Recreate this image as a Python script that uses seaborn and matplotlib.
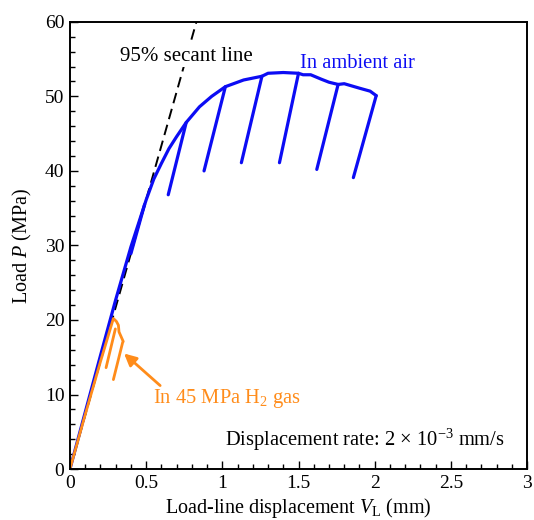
import numpy as np
import pandas as pd
import matplotlib
matplotlib.use("Agg")
import matplotlib.pyplot as plt
import seaborn as sns
from matplotlib.ticker import MultipleLocator

# ---------------- data ----------------
# ambient air: loading envelope
air_env_x = [0.0, 0.1, 0.2, 0.3, 0.4, 0.5, 0.55, 0.6, 0.65, 0.7, 0.763, 0.85,
             0.93, 1.02, 1.14, 1.26, 1.30, 1.40, 1.50, 1.53, 1.58, 1.65, 1.70,
             1.76, 1.80, 1.90, 1.97, 2.01]
air_env_y = [0.0, 7.6, 15.2, 22.7, 29.8, 36.1, 38.9, 41.0, 43.0, 44.6, 46.5, 48.6,
             50.0, 51.3, 52.2, 52.7, 53.1, 53.2, 53.1, 52.9, 52.9, 52.3, 51.9,
             51.6, 51.7, 51.1, 50.7, 50.1]
# ambient air: unloading lines (top on envelope -> bottom)
air_unl_top_x = [0.49, 0.763, 1.02, 1.26, 1.50, 1.76, 2.01]
air_unl_top_y = [35.5, 46.5, 51.3, 52.7, 53.1, 51.6, 50.1]
air_unl_bot_x = [0.40, 0.645, 0.88, 1.125, 1.375, 1.62, 1.86]
air_unl_bot_y = [28.9, 36.8, 40.0, 41.1, 41.1, 40.2, 39.1]

# H2 gas: loading envelope
h2_env_x = [0.0, 0.1, 0.2, 0.285, 0.305, 0.318, 0.322, 0.35]
h2_env_y = [0.0, 7.3, 14.4, 20.2, 19.8, 19.3, 18.4, 17.1]
# H2 gas: unloading lines
h2_unl_top_x = [0.298, 0.346]
h2_unl_top_y = [18.8, 17.0]
h2_unl_bot_x = [0.237, 0.285]
h2_unl_bot_y = [13.6, 12.0]

# 95% secant line
secant_x = [0.0, 0.83]
secant_y = [0.0, 60.0]

# ---------------- build tables ----------------
def build(env_x, env_y, tx, ty, bx, by):
    rows = []
    for x, y in zip(env_x, env_y):
        rows.append((x, y, 0))
    for i, (a, b, c, d) in enumerate(zip(tx, ty, bx, by)):
        rows.append((a, b, i + 1))
        rows.append((c, d, i + 1))
    return pd.DataFrame(rows, columns=["x", "y", "seg"])

air_df = build(air_env_x, air_env_y, air_unl_top_x, air_unl_top_y,
               air_unl_bot_x, air_unl_bot_y)
h2_df = build(h2_env_x, h2_env_y, h2_unl_top_x, h2_unl_top_y,
              h2_unl_bot_x, h2_unl_bot_y)
sec_df = pd.DataFrame({"x": secant_x, "y": secant_y})

# ---------------- style ----------------
sns.set_theme(style="ticks")
plt.rcParams["font.family"] = ["Liberation Serif", "DejaVu Serif"]
plt.rcParams["mathtext.fontset"] = "custom"
plt.rcParams["mathtext.rm"] = "Liberation Serif"
plt.rcParams["mathtext.it"] = "Liberation Serif:italic"
plt.rcParams["axes.linewidth"] = 1.4
plt.rcParams["axes.edgecolor"] = "black"

BLUE = "#0c0cf4"
ORANGE = "#ff8c1a"
TXT = 14.8

fig = plt.figure(figsize=(5.34, 5.20), dpi=100)
ax = fig.add_axes([0.131, 0.098, 0.856, 0.860])

sns.lineplot(data=sec_df, x="x", y="y", ax=ax, color="black", lw=1.4,
             dashes=False, linestyle=(0, (5.5, 3)), sort=False, estimator=None)
sns.lineplot(data=air_df, x="x", y="y", units="seg", estimator=None, sort=False,
             ax=ax, color=BLUE, lw=2.3, solid_capstyle="round",
             solid_joinstyle="round")
sns.lineplot(data=h2_df, x="x", y="y", units="seg", estimator=None, sort=False,
             ax=ax, color=ORANGE, lw=2.0, solid_capstyle="round",
             solid_joinstyle="round")

ax.set_xlim(0, 3)
ax.set_ylim(0, 60)
ax.xaxis.set_major_locator(MultipleLocator(0.5))
ax.xaxis.set_minor_locator(MultipleLocator(0.1))
ax.yaxis.set_major_locator(MultipleLocator(10))
ax.yaxis.set_minor_locator(MultipleLocator(2))
ax.set_xticks([0, 0.5, 1, 1.5, 2, 2.5, 3])
ax.set_xticklabels(["0", "0.5", "1", "1.5", "2", "2.5", "3"])
ax.tick_params(which="both", direction="in", top=False, right=False,
               color="black", width=1.0, labelsize=14, labelcolor="black")
ax.tick_params(which="major", length=6, pad=4)
ax.tick_params(which="minor", length=3.5)

ax.set_xlabel("Load-line displacement $V_{\\mathrm{L}}$ (mm)", fontsize=14.5,
              color="black", labelpad=3)
ax.set_ylabel("Load $P$ (MPa)", fontsize=14.5, color="black", labelpad=8)

ax.text(0.33, 54.8, "95% secant line", fontsize=15, color="black",
        ha="left", va="baseline",
        bbox=dict(facecolor="white", edgecolor="none", pad=1.0))
ax.text(1.51, 53.8, "In ambient air", fontsize=TXT, color=BLUE,
        ha="left", va="baseline")
ax.text(0.548, 8.8, "In 45 MPa H$_2$ gas", fontsize=TXT, color=ORANGE,
        ha="left", va="baseline")
ax.text(1.02, 3.1, "Displacement rate: 2 × 10$^{-3}$ mm/s", fontsize=TXT,
        color="black", ha="left", va="baseline")
ax.annotate("", xy=(0.355, 15.5), xytext=(0.592, 11.2),
            arrowprops=dict(arrowstyle="-|>", color=ORANGE, lw=2,
                            mutation_scale=18, shrinkA=0, shrinkB=0))

if ax.get_legend() is not None:
    ax.get_legend().remove()

fig.savefig("out.png", dpi=100)
